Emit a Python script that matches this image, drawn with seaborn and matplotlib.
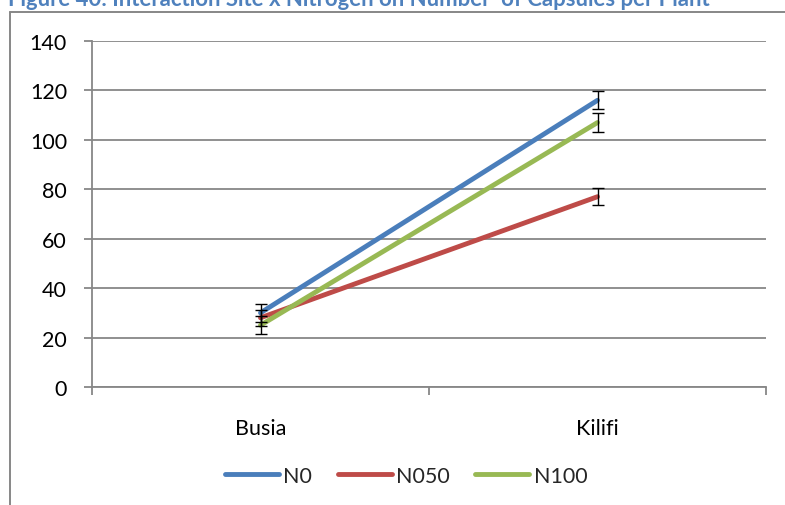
import matplotlib
matplotlib.use("Agg")
import matplotlib.pyplot as plt
import seaborn as sns
import pandas as pd
from matplotlib.lines import Line2D
from matplotlib.ticker import FixedLocator

sites = ["Busia", "Kilifi"]
series = ["N0", "N050", "N100"]
n0 = [30, 116]
n050 = [28, 77]
n100 = [25, 107]
err_n0 = [3.6, 3.6]
err_n050 = [3.3, 3.5]
err_n100 = [3.6, 3.7]
yticks = [0, 20, 40, 60, 80, 100, 120, 140]
title = "Figure 40: Interaction Site x Nitrogen on Number  of Capsules per Plant"

colors = ["#4A7EBB", "#BE4B48", "#98B954"]

df = pd.DataFrame({
    "Site": sites * 3,
    "Nitrogen": [s for s in series for _ in sites],
    "Value": n0 + n050 + n100,
})

sns.set_style("white")
plt.rcParams["font.family"] = ["Lato", "DejaVu Sans"]

W, H = 785, 506
fig = plt.figure(figsize=(W / 100, H / 100), dpi=100)
ax = fig.add_axes([92 / W, 1 - 388 / H, (766 - 92) / W, (388 - 42) / H])

LW = 3.5
sns.lineplot(data=df, x="Site", y="Value", hue="Nitrogen", palette=colors,
             linewidth=LW, ax=ax, legend=True, sort=False)

for vals, errs in [(n0, err_n0), (n050, err_n050), (n100, err_n100)]:
    ax.errorbar([0, 1], vals, yerr=errs, fmt="none", ecolor="black",
                elinewidth=1.0, capsize=4.5, capthick=1.0, zorder=5)

ax.set_xlim(-0.5, 1.5)
ax.set_ylim(0, 140)
ax.set_yticks(yticks)
ax.set_yticklabels([str(v) for v in yticks])
ax.set_xticks([0, 1])
ax.set_xticklabels(sites)
ax.xaxis.set_minor_locator(FixedLocator([-0.5, 0.5, 1.5]))
ax.set_xlabel("")
ax.set_ylabel("")

FS = 15.5
grid_c = "#878787"
ax.grid(axis="y", color=grid_c, linewidth=1.3)
ax.grid(axis="x", visible=False)
ax.set_axisbelow(True)
for s in ["top", "right"]:
    ax.spines[s].set_visible(False)
for s in ["left", "bottom"]:
    ax.spines[s].set_color(grid_c)
    ax.spines[s].set_linewidth(1.3)

ax.tick_params(axis="y", which="major", length=6, width=1.3, color=grid_c,
               pad=12, labelsize=FS, labelcolor="black", left=True)
ax.tick_params(axis="x", which="major", length=0, pad=22, labelsize=FS,
               labelcolor="black", bottom=True)
ax.tick_params(axis="x", which="minor", length=6, width=1.3, color=grid_c,
               bottom=True)

leg = ax.get_legend()
if leg is not None:
    leg.remove()
handles = [Line2D([0], [0], color=c, linewidth=LW, solid_capstyle="round") for c in colors]
fig.legend(handles, series, loc="center", bbox_to_anchor=(406 / W, 1 - 477 / H),
           ncol=3, frameon=False, fontsize=FS, handlelength=2.5,
           handletextpad=0.2, columnspacing=1.2)

# outer chart frame (partially visible)
frame_c = "#878787"
fig.add_artist(Line2D([9.5 / W, 9.5 / W], [0, 1 - 12.5 / H], color=frame_c,
                      linewidth=1.4, transform=fig.transFigure))
fig.add_artist(Line2D([9.5 / W, 1], [1 - 12.5 / H, 1 - 12.5 / H], color=frame_c,
                      linewidth=1.4, transform=fig.transFigure))

t = fig.text(8 / W, 1 - 6 / H, title, color="#4F81BD", fontsize=15,
             fontweight="bold", ha="left", va="baseline")
fig.canvas.draw()
bb = t.get_window_extent()
target = 705
t.set_fontsize(15 * target / bb.width)

fig.savefig("out.png", dpi=100)
